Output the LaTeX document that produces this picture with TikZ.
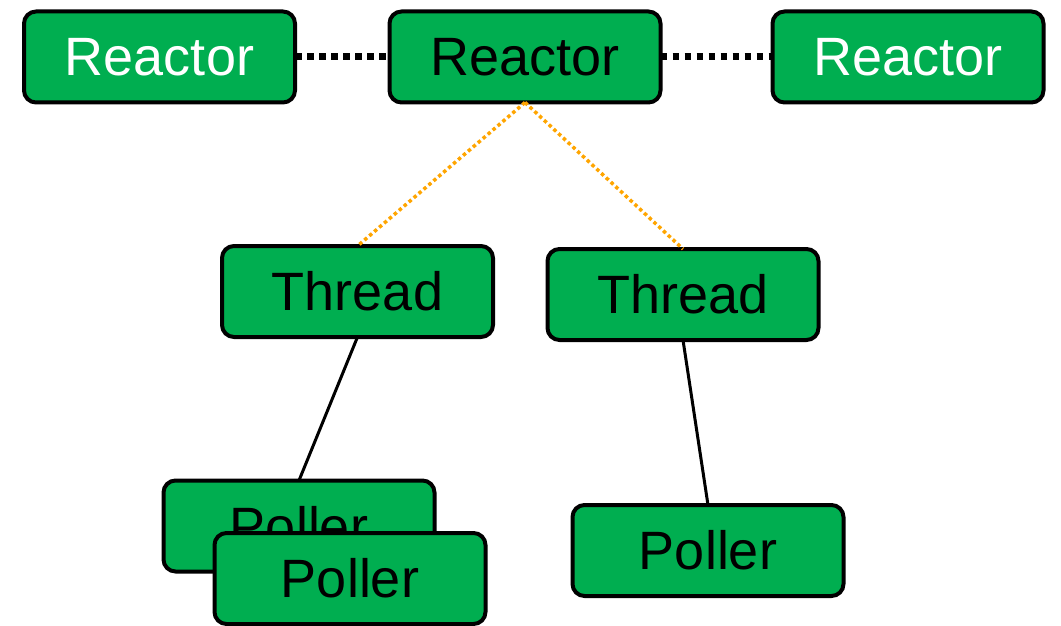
\documentclass[tikz,border=0pt]{standalone}
\usepackage{fontspec}
\setmainfont{Liberation Sans}
\definecolor{boxgreen}{RGB}{0,174,80}
\definecolor{linkorange}{RGB}{255,165,0}
\begin{document}
\begin{tikzpicture}[x=1pt,y=-1pt,
  box/.style={draw=black, line width=4pt, fill=boxgreen, rounded corners=12pt,
    minimum width=271pt, minimum height=91pt, inner sep=0pt, outer sep=0pt,
    font=\fontsize{54}{60}\selectfont},
  peer/.style={line width=7pt, dash pattern=on 6.5pt off 5.5pt},
  owns/.style={draw=linkorange, line width=3.5pt, dash pattern=on 3.5pt off 3pt},
  link/.style={draw=black, line width=3pt}]
\useasboundingbox (0,0) rectangle (1061,626);
\node[box, text=white] (r1) at (159.5,57) {Reactor};
\node[box, text=black] (r2) at (525,57) {Reactor};
\node[box, text=white] (r3) at (908,57) {Reactor};
\node[box] (t1) at (357.5,291.5) {Thread};
\node[box] (t2) at (683,294.5) {Thread};
\node[box] (p1) at (299,526) {Poller};
\node[box] (p2) at (350,578.5) {Poller};
\node[box] (p3) at (708,550.5) {Poller};
\draw[peer] (r1.east) -- (r2.west);
\draw[peer] (r2.east) -- (r3.west);
\draw[owns] (r2.south) -- (t1.north);
\draw[owns] (r2.south) -- (t2.north);
\draw[link] (t1.south) -- (p1.north);
\draw[link] (t2.south) -- (p3.north);
\end{tikzpicture}
\end{document}
